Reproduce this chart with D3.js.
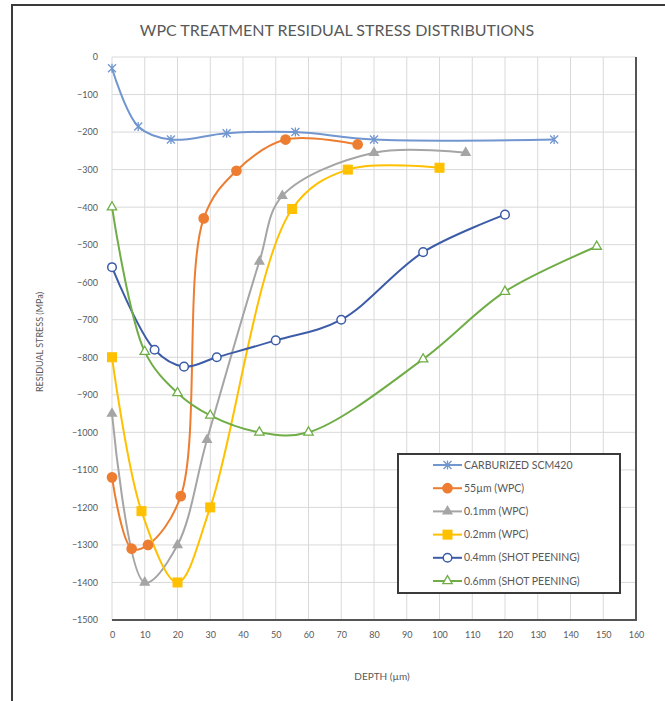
<!DOCTYPE html>
<html>
<head>
<meta charset="utf-8">
<script src="https://cdn.jsdelivr.net/npm/d3@7"></script>
<style>
  body { margin: 0; background: #fff; }
  text { font-family: Lato, "Open Sans", sans-serif; fill: #595959; }
</style>
</head>
<body>
<div id="chart"></div>
<script>
// data
const xTicks = d3.range(0, 161, 10);
const yTicks = d3.range(0, -1501, -100);

const seriesNames = ["CARBURIZED SCM420", "55\u00b5m (WPC)", "0.1mm (WPC)", "0.2mm (WPC)", "0.4mm (SHOT PEENING)", "0.6mm (SHOT PEENING)"];
const seriesColors = ["#7196d0", "#ed7d31", "#a5a5a5", "#ffc000", "#3d5ca8", "#70ad47"];
const seriesMarkers = ["star", "circle", "triangle", "square", "openCircle", "openTriangle"];

const carburized = [[0, -30], [8, -185], [18, -220], [35, -203], [56, -200], [80, -220], [135, -220]];
const wpc55um   = [[0, -1120], [6, -1310], [11, -1300], [21, -1170], [28, -430], [38, -303], [53, -220], [75, -233]];
const wpc01mm   = [[0, -950], [10, -1400], [20, -1300], [29, -1020], [45, -545], [52, -370], [80, -255], [108, -255]];
const wpc02mm   = [[0, -800], [9, -1210], [20, -1400], [30, -1200], [55, -405], [72, -300], [100, -295]];
const shot04mm  = [[0, -560], [13, -780], [22, -825], [32, -800], [50, -755], [70, -700], [95, -520], [120, -420]];
const shot06mm  = [[0, -400], [10, -785], [20, -895], [30, -955], [45, -1000], [60, -1000], [95, -805], [120, -625], [148, -505]];

const seriesData = [carburized, wpc55um, wpc01mm, wpc02mm, shot04mm, shot06mm];

const W = 665, H = 701;
const margin = ({top: 57, right: 29, bottom: 81, left: 112});
const width = W - margin.left - margin.right;
const height = H - margin.top - margin.bottom;

const svg = d3.select("#chart").append("svg")
  .attr("width", W)
  .attr("height", H);

// screenshot frame (top + left)
svg.append("path")
  .attr("d", "M12,701V5H665")
  .attr("fill", "none")
  .attr("stroke", "#3a3a3a")
  .attr("stroke-width", 2);

svg.append("text")
  .attr("x", 337)
  .attr("y", 36)
  .attr("text-anchor", "middle")
  .attr("font-size", "16px")
  .text("WPC TREATMENT RESIDUAL STRESS DISTRIBUTIONS");

const g = svg.append("g")
  .attr("transform", "translate(" + margin.left + "," + margin.top + ")");

const x = d3.scaleLinear().domain([0, 160]).range([0, width]);
const y = d3.scaleLinear().domain([-1500, 0]).range([height, 0]);

// grid
g.append("g")
  .selectAll("line.h")
  .data(yTicks)
  .enter().append("line")
  .attr("x1", 0).attr("x2", width)
  .attr("y1", d => y(d)).attr("y2", d => y(d))
  .attr("stroke", "#d9d9d9");

g.append("g")
  .selectAll("line.v")
  .data(xTicks)
  .enter().append("line")
  .attr("y1", 0).attr("y2", height)
  .attr("x1", d => x(d)).attr("x2", d => x(d))
  .attr("stroke", "#d9d9d9");

// axes
const yAxis = d3.axisLeft(y).tickValues(yTicks).tickSize(0).tickPadding(14).tickFormat(d3.format("d"));
const xAxis = d3.axisBottom(x).tickValues(xTicks).tickSize(0).tickPadding(12);

g.append("g").call(yAxis)
  .call(a => a.select(".domain").remove())
  .selectAll("text").attr("font-size", "9px").attr("fill", "#595959");

g.append("g").attr("transform", "translate(0," + height + ")").call(xAxis)
  .call(a => a.select(".domain").remove())
  .selectAll("text").attr("font-size", "9px").attr("fill", "#595959");

// bottom + right border of plot
g.append("path")
  .attr("d", "M0," + height + "H" + width + "V0")
  .attr("fill", "none")
  .attr("stroke", "#555")
  .attr("stroke-width", 2);

svg.append("text")
  .attr("x", 382)
  .attr("y", 680)
  .attr("text-anchor", "middle")
  .attr("font-size", "10px")
  .text("DEPTH (\u00b5m)");

svg.append("text")
  .attr("transform", "translate(43,342) rotate(-90)")
  .attr("text-anchor", "middle")
  .attr("font-size", "9px")
  .text("RESIDUAL STRESS (MPa)");

// lines
const line = d3.line()
  .x(d => x(d[0]))
  .y(d => y(d[1]))
  .curve(d3.curveCatmullRom.alpha(0.5));

function drawMarker(sel, type, color) {
  if (type === "star") {
    sel.append("path")
      .attr("d", "M-4,-4L4,4M-4,4L4,-4M0,-4.5V4.5")
      .attr("stroke", color).attr("stroke-width", 1.3).attr("fill", "none");
  } else if (type === "circle" || type === "openCircle") {
    sel.append("circle").attr("r", type === "circle" ? 4.6 : 4.3)
      .attr("fill", type === "circle" ? color : "#fff")
      .attr("stroke", color).attr("stroke-width", 1.5);
  } else if (type === "triangle" || type === "openTriangle") {
    sel.append("path")
      .attr("d", d3.symbol().type(d3.symbolTriangle).size(type === "triangle" ? 34 : 38)())
      .attr("fill", type === "triangle" ? color : "#fff")
      .attr("stroke", color).attr("stroke-width", 1.3);
  } else if (type === "square") {
    sel.append("rect").attr("x", -4.5).attr("y", -4.5).attr("width", 9).attr("height", 9)
      .attr("fill", color).attr("stroke", color);
  }
}

seriesData.forEach((data, i) => {
  g.append("path")
    .datum(data)
    .attr("fill", "none")
    .attr("stroke", seriesColors[i])
    .attr("stroke-width", 2)
    .attr("d", line);
});

seriesData.forEach((data, i) => {
  g.selectAll(".m" + i)
    .data(data)
    .enter().append("g")
    .attr("transform", d => "translate(" + x(d[0]) + "," + y(d[1]) + ")")
    .each(function() { drawMarker(d3.select(this), seriesMarkers[i], seriesColors[i]); });
});

// legend
const legend = svg.append("g").attr("transform", "translate(398,454)");
legend.append("rect")
  .attr("width", 222).attr("height", 139)
  .attr("fill", "#fff")
  .attr("stroke", "#3a3a3a")
  .attr("stroke-width", 2);

const entry = legend.selectAll(".entry")
  .data(seriesNames)
  .enter().append("g")
  .attr("transform", (d, i) => "translate(0," + (11 + i * 23.2) + ")");

entry.append("line")
  .attr("x1", 35).attr("x2", 64)
  .attr("stroke", (d, i) => seriesColors[i])
  .attr("stroke-width", 2);

entry.append("g")
  .attr("transform", "translate(49.5,0)")
  .each(function(d, i) { drawMarker(d3.select(this), seriesMarkers[i], seriesColors[i]); });

entry.append("text")
  .attr("x", 66)
  .attr("dy", "0.35em")
  .attr("font-size", "10.5px")
  .text(d => d);
</script>
</body>
</html>
